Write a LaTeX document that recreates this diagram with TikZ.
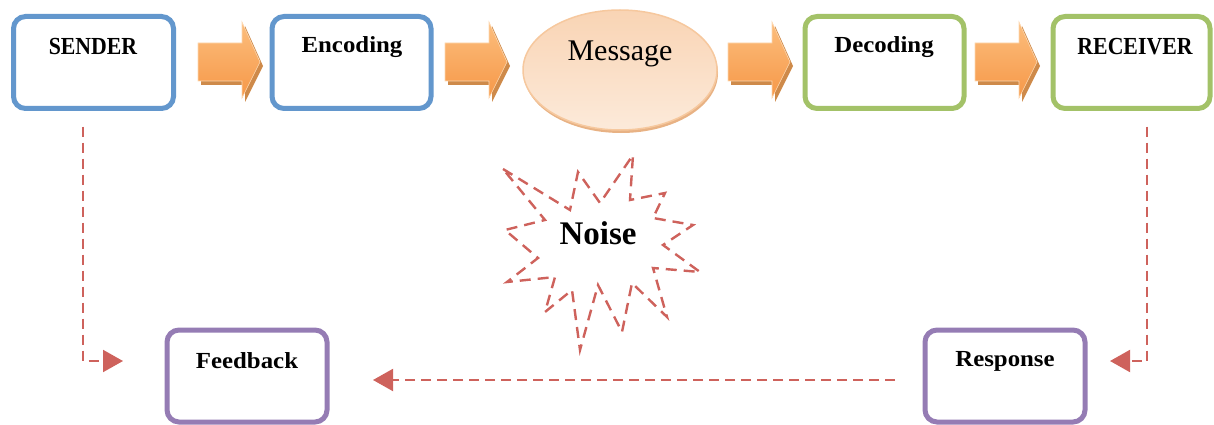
\documentclass[tikz,border=0pt]{standalone}
\usepackage{fontspec}
\setmainfont{Liberation Serif}
\newfontfamily\lblwide[FakeStretch=1.08]{Liberation Serif}
\newfontfamily\lblnarrow[FakeStretch=0.89]{Liberation Serif}
\usetikzlibrary{arrows.meta,shapes.geometric}
\definecolor{bblue}{RGB}{99,151,205}
\definecolor{bgreen}{RGB}{163,194,104}
\definecolor{bpurple}{RGB}{149,124,180}
\definecolor{dred}{RGB}{206,98,92}
\definecolor{oranL}{RGB}{252,190,125}
\definecolor{oranD}{RGB}{246,152,72}
\definecolor{oranS}{RGB}{206,138,74}
\definecolor{peachD}{RGB}{249,212,180}
\definecolor{peachL}{RGB}{252,234,218}
\definecolor{peachB}{RGB}{246,200,158}
\definecolor{peachS}{RGB}{232,178,132}
\newcommand\blockarrow[1]{%
  \fill[oranS] (#1+3,47) -- (#1+47,47) -- (#1+47,26) -- (#1+65,66) -- (#1+47,102) -- (#1+47,85) -- (#1+3,85) -- cycle;
  \shade[top color=oranL, bottom color=oranD, draw=oranL!60!white, line width=0.6pt]
    (#1,43) -- (#1+44,43) -- (#1+44,22) -- (#1+62,62) -- (#1+44,98) -- (#1+44,81) -- (#1,81) -- cycle;
}
\begin{document}
\begin{tikzpicture}[x=1pt,y=-1pt,
  box/.style={draw=#1, line width=5pt, rounded corners=12pt, minimum width=160pt,
    minimum height=92pt, inner sep=0pt, outer sep=0pt, fill=white},
  lbl/.style={font=\lblwide\fontsize{23}{26}\selectfont\bfseries, inner sep=0pt},
  lblc/.style={font=\lblnarrow\fontsize{24.5}{27}\selectfont\bfseries, inner sep=0pt},
  conn/.style={draw=dred, line width=2pt, dash pattern=on 10pt off 6pt},
  starline/.style={draw=dred, line width=2.4pt, dash pattern=on 11pt off 7pt},
  tipr/.style={-{Triangle[length=20pt,width=22pt]}}
]
\useasboundingbox (0,0) rectangle (1214,425);

% boxes
\node[box=bblue] (sender) at (93.5,62.5) {};
\node[box=bblue, minimum width=159pt] (enc) at (351.5,62.5) {};
\node[box=bgreen, minimum width=159pt] (dec) at (884.5,62.5) {};
\node[box=bgreen, minimum width=157pt] (recv) at (1131.5,62.5) {};
\node[box=bpurple, minimum height=92pt] (feed) at (247,376) {};
\node[box=bpurple, minimum height=92pt] (resp) at (1005,376) {};

\node[lblc] (senderl) at (93,46.5) {SENDER};
\node[lbl] (encl) at (352,47) {Encoding};
\node[lbl] (decl) at (884,47) {Decoding};
\node[lblc] (recvl) at (1135,46.5) {RECEIVER};
\node[lbl] (feedl) at (247,361) {Feedback};
\node[lbl] (respl) at (1005,361) {Response};

% message ellipse
\fill[peachS] (621,73) ellipse [x radius=97, y radius=60];
\node[ellipse, draw=peachB, line width=1.5pt, top color=peachD, bottom color=peachL,
  minimum width=194pt, minimum height=120pt, inner sep=0pt] (msg) at (620,70) {};
\node[font=\fontsize{30}{34}\selectfont, inner sep=0pt] (msgl) at (620,54) {Message};

% block arrows
\blockarrow{198}
\blockarrow{445}
\blockarrow{728}
\blockarrow{975}

% noise star
\draw[starline] (503,169) -- (570,210) -- (578,172) -- (600,203) -- (633,155) -- (630,200)
  -- (665,193) -- (653,218) -- (693,225) -- (663,245) -- (700,272) -- (653,268)
  -- (667,317) -- (632,283) -- (622,332) -- (598,285) -- (580,350) -- (572,290)
  -- (545,312) -- (555,277) -- (507,282) -- (538,258) -- (505,230) -- (545,220) -- cycle;
\node[font=\fontsize{33}{36}\selectfont\bfseries, inner sep=0pt] (noise) at (598,233) {Noise};

% feedback connectors
\coordinate (fbin) at (123,361);
\coordinate (rsin) at (1110,361);
\draw[conn, tipr] ([xshift=-10.5pt,yshift=-18pt]sender.south) |- (fbin);
\draw[conn, tipr] ([xshift=15.5pt,yshift=-18pt]recv.south) |- (rsin);
\draw[conn, tipr] ([xshift=-30pt,yshift=-4pt]resp.west) -- ([xshift=46pt,yshift=-4pt]feed.east);
\end{tikzpicture}
\end{document}
